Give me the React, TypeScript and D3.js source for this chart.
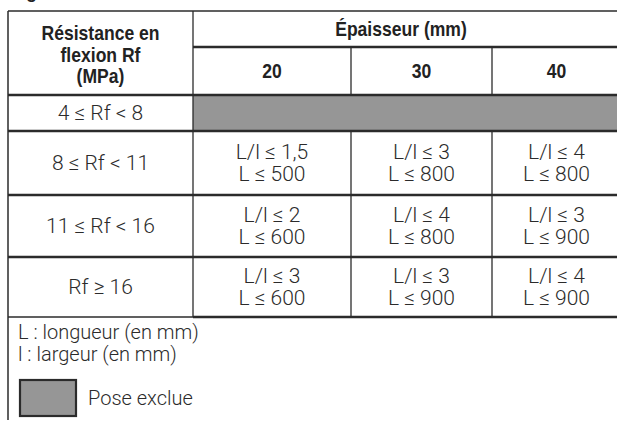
import * as d3 from "d3";

// row groups (flexural strength) and column groups (thickness)
const rowLabels = ["4 ≤ Rf < 8", "8 ≤ Rf < 11", "11 ≤ Rf < 16", "Rf ≥ 16"];
const thickness = ["20", "30", "40"];
// L/l maximum ratio per row, per thickness (null = pose exclue)
const ratioMax: (number[] | null)[] = [null, [1.5, 3, 4], [2, 4, 3], [3, 3, 4]];
// L maximum length (mm)
const lengthMax: (number[] | null)[] = [null, [500, 800, 800], [600, 800, 900], [600, 900, 900]];
const headerLines = ["Résistance en", "flexion Rf", "(MPa)"];
const groupTitle = "Épaisseur (mm)";
const legendLines = ["L : longueur (en mm)", "l : largeur (en mm)"];
const legendExcluded = "Pose exclue";

const W = 617;
const H = 423;
const left = 8;
const top = 11;
const right = 621;
const col1 = 193;
const h1 = 47;
const h2 = 95;
const tableBottom = 317;

const colEdges = [col1, 351, 492, right];
const rowEdges = [h2, 131, 195, 257, tableBottom];

const ink = "#2b2b2b";
const headInk = "#222";
const grey = "#969696";
const boldFont = "'Liberation Sans', Arial, sans-serif";
const lightFont = "Roboto, 'Liberation Sans', sans-serif";
const squeeze = 0.9; // condensed look for the bold headings

const fmt = d3.formatLocale({ decimal: ",", thousands: " ", grouping: [3], currency: ["", "€"] }).format("~g");

const Head = ({ x, y, children }: { x: number; y: number; children: string }) => (
  <text transform={`translate(${x},${y}) scale(${squeeze},1)`} textAnchor="middle" dominantBaseline="central"
    fontFamily={boldFont} fontWeight={700} fontSize={19.5} fill={headInk}>{children}</text>
);

export default function App() {
  const xCol = d3.scaleOrdinal<string, number>().domain(thickness).range(colEdges.slice(0, 3));
  const xColEnd = d3.scaleOrdinal<string, number>().domain(thickness).range(colEdges.slice(1));
  const yRow = d3.scaleOrdinal<string, number>().domain(rowLabels).range(rowEdges.slice(0, 4));
  const yRowEnd = d3.scaleOrdinal<string, number>().domain(rowLabels).range(rowEdges.slice(1));
  const mid = (a: number, b: number) => (a + b) / 2;
  const lineGap = 11;

  return (
    <svg width={W} height={H} style={{ position: "absolute", left: 0, top: 0, background: "#fff" }}>
      {/* clipped title fragment */}
      <text x={26} y={-2} fontFamily={boldFont} fontWeight={700} fontSize={18} fill={headInk}>g</text>

      {/* excluded cells */}
      {ratioMax.map((r, i) =>
        r === null ? (
          <rect key={i} x={col1} y={yRow(rowLabels[i])} width={right - col1}
            height={yRowEnd(rowLabels[i]) - yRow(rowLabels[i])} fill={grey} />
        ) : null
      )}

      {/* header text */}
      {headerLines.map((t, i) => (
        <Head key={t} x={mid(left, col1)} y={33.5 + i * 21.5}>{t}</Head>
      ))}
      <Head x={mid(col1, right) - 6} y={mid(top, h1)}>{groupTitle}</Head>
      {thickness.map((t) => (
        <Head key={t} x={mid(xCol(t), xColEnd(t))} y={mid(h1, h2)}>{t}</Head>
      ))}

      {/* row labels */}
      {rowLabels.map((r) => (
        <text key={r} x={mid(left, col1)} y={mid(yRow(r), yRowEnd(r))} textAnchor="middle" dominantBaseline="central"
          fontFamily={lightFont} fontWeight={300} fontSize={21} fill={ink}>{r}</text>
      ))}

      {/* cells */}
      {rowLabels.map((r, i) =>
        ratioMax[i] === null
          ? null
          : thickness.map((t, j) => {
              const cx = mid(xCol(t), xColEnd(t));
              const cy = mid(yRow(r), yRowEnd(r));
              return (
                <g key={r + t} fontFamily={lightFont} fontWeight={300} fontSize={21} fill={ink} textAnchor="middle">
                  <text x={cx} y={cy - lineGap} dominantBaseline="central">{`L/l ≤ ${fmt(ratioMax[i]![j])}`}</text>
                  <text x={cx} y={cy + lineGap} dominantBaseline="central">{`L ≤ ${lengthMax[i]![j]}`}</text>
                </g>
              );
            })
      )}

      {/* grid */}
      <g stroke={ink} fill="none">
        <line x1={left} x2={right} y1={top} y2={top} strokeWidth={1.5} />
        <line x1={left} x2={left} y1={top} y2={420} strokeWidth={1.5} />
        <line x1={col1} x2={col1} y1={top} y2={tableBottom} strokeWidth={1.3} />
        <line x1={col1} x2={right} y1={h1} y2={h1} strokeWidth={2.5} />
        {colEdges.slice(1, 3).map((x) => (
          <g key={x}>
            <line x1={x} x2={x} y1={h1} y2={h2} strokeWidth={1.3} />
            <line x1={x} x2={x} y1={rowEdges[1]} y2={tableBottom} strokeWidth={1.3} />
          </g>
        ))}
        {rowEdges.slice(0, 4).map((y) => (
          <line key={y} x1={left} x2={right} y1={y} y2={y} strokeWidth={2.5} />
        ))}
        <line x1={left} x2={col1} y1={tableBottom} y2={tableBottom} strokeWidth={1.3} />
        <line x1={col1} x2={right} y1={tableBottom} y2={tableBottom} strokeWidth={2.5} />
      </g>

      {/* legend */}
      {legendLines.map((t, i) => (
        <text key={t} x={18} y={332 + i * 22} dominantBaseline="central"
          fontFamily={lightFont} fontWeight={300} fontSize={20} fill={ink}>{t}</text>
      ))}
      <rect x={20} y={380} width={56} height={36} fill={grey} stroke={ink} strokeWidth={2.2} />
      <text x={88} y={398} dominantBaseline="central" fontFamily={lightFont} fontWeight={300} fontSize={20} fill={ink}>
        {legendExcluded}
      </text>
    </svg>
  );
}
